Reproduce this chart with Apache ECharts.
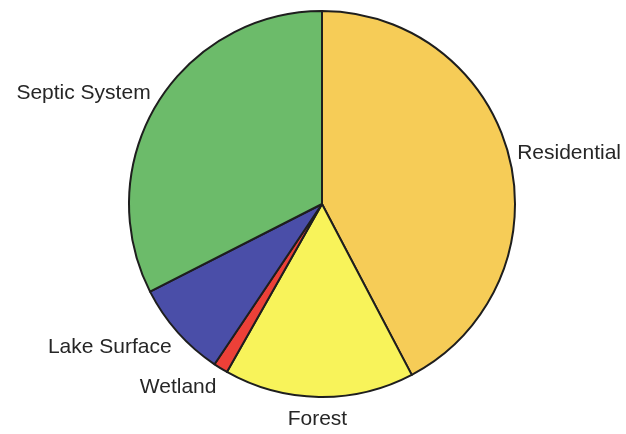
<!DOCTYPE html>
<html><head><meta charset="utf-8">
<script src="https://cdn.jsdelivr.net/npm/echarts@6/dist/echarts.min.js"></script>
<style>html,body{margin:0;padding:0;background:#fff}#c{width:626px;height:434px}</style>
</head><body><div id="c"></div>
<script>
const categories = ['Residential', 'Forest', 'Wetland', 'Lake Surface', 'Septic System'];
const values = [42.3, 15.9, 1.2, 8.1, 32.5];
const colors = ['#F6CC57', '#F8F35A', '#EC4038', '#4A4EA8', '#6CBB6A'];

const CX = 322, CY = 204, R = 193, GAP = 8;
const total = values.reduce((a, b) => a + b, 0);
const midAngles = [];
let acc = 0;
values.forEach(v => { midAngles.push((acc + v / 2) / total * 2 * Math.PI); acc += v; });

const chart = echarts.init(document.getElementById('c'));
chart.setOption({
  animation: false,
  backgroundColor: '#ffffff',
  series: [{
    type: 'pie',
    center: [CX, CY],
    radius: R,
    startAngle: 90,
    clockwise: true,
    avoidLabelOverlap: false,
    data: categories.map((n, i) => ({ name: n, value: values[i], itemStyle: { color: colors[i] } })),
    itemStyle: { borderColor: '#1e1e1e', borderWidth: 2 },
    label: {
      show: true, position: 'outside', formatter: '{b}',
      fontFamily: 'Liberation Sans, Arial, sans-serif', fontSize: 21, color: '#262626'
    },
    labelLine: { show: false, length: 6, length2: 0 },
    labelLayout: function (p) {
      const a = midAngles[p.dataIndex];
      const ux = Math.sin(a), uy = -Math.cos(a);
      const w = p.labelRect.width, h = p.labelRect.height;
      const sx = Math.max(-1, Math.min(1, ux * 3));
      return {
        x: CX + ux * (R + GAP) + sx * w / 2,
        y: CY + uy * (R + GAP) + uy * h / 2 + (uy > 0 ? uy * 4 : 0),
        align: 'center', verticalAlign: 'middle'
      };
    }
  }]
});
</script></body></html>
